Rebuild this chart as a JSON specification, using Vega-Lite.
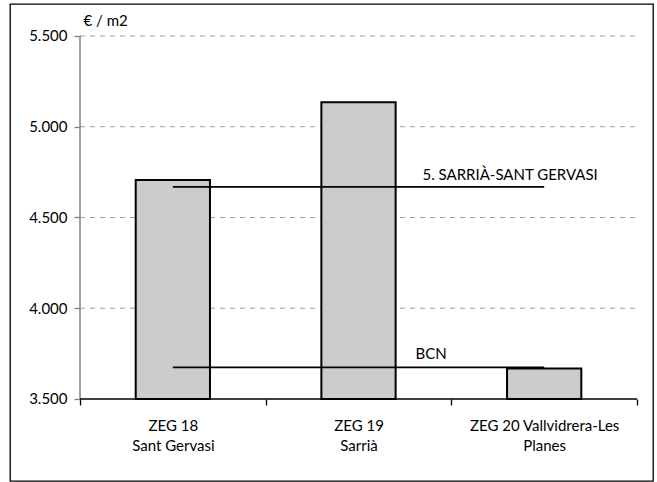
{
  "$schema": "https://vega.github.io/schema/vega-lite/v6.json",
  "width": 643,
  "height": 477,
  "autosize": "none",
  "padding": {"left": 10, "top": 4, "right": 4, "bottom": 1},
  "config": {
    "view": {"stroke": "#000000", "strokeWidth": 1.3},
    "font": "Lato"
  },
  "datasets": {
    "bars": [
      {"zona": "ZEG 18|Sant Gervasi", "precio": 4707},
      {"zona": "ZEG 19|Sarrià", "precio": 5135},
      {"zona": "ZEG 20 Vallvidrera-Les|Planes", "precio": 3668}
    ],
    "refs": [
      {"nom": "5. SARRIÀ-SANT GERVASI", "valor": 4669},
      {"nom": "BCN", "valor": 3674}
    ],
    "grid": [{"v": 4000}, {"v": 4500}, {"v": 5000}, {"v": 5500}]
  },
  "layer": [
    {
      "data": {"name": "grid"},
      "mark": {"type": "rule", "strokeDash": [5, 5], "color": "#a0a0a0", "strokeWidth": 1},
      "encoding": {
        "y": {"field": "v", "type": "quantitative"},
        "x": {"datum": "ZEG 18|Sant Gervasi", "type": "nominal", "bandPosition": 0},
        "x2": {"datum": "ZEG 20 Vallvidrera-Les|Planes", "bandPosition": 1}
      }
    },
    {
      "data": {"name": "bars"},
      "mark": {"type": "bar", "width": {"band": 0.4}, "fill": "#cccccc", "stroke": "#000000", "strokeWidth": 2},
      "encoding": {
        "x": {
          "field": "zona",
          "type": "nominal",
          "sort": null,
          "scale": {
            "type": "band",
            "domain": ["ZEG 18|Sant Gervasi", "ZEG 19|Sarrià", "ZEG 20 Vallvidrera-Les|Planes"],
            "paddingInner": 0,
            "paddingOuter": 0.2316,
            "align": 0.814,
            "round": false
          },
          "axis": {
            "title": null,
            "orient": "bottom",
            "offset": -82,
            "domain": false,
            "grid": false,
            "tickBand": "extent",
            "tickSize": 6,
            "tickColor": "#000000",
            "tickWidth": 1.3,
            "labelAngle": 0,
            "labelAlign": "center",
            "labelBaseline": "top",
            "labelOverlap": false,
            "labelBound": false,
            "labelFlush": false,
            "labelExpr": "split(datum.label, '|')",
            "labelFont": "Lato",
            "labelFontSize": 15,
            "labelColor": "#000000",
            "labelLineHeight": 20,
            "labelPadding": 13
          }
        },
        "y": {
          "field": "precio",
          "type": "quantitative",
          "scale": {"domain": [3048.2, 5676.3], "nice": false, "zero": false},
          "axis": {
            "title": "€ / m2",
            "titleAngle": 0,
            "titleX": 3,
            "titleY": 21,
            "titleAlign": "left",
            "titleBaseline": "alphabetic",
            "titleFont": "Lato",
            "titleFontSize": 15,
            "titleFontWeight": "normal",
            "titleColor": "#000000",
            "offset": -70,
            "domain": false,
            "grid": false,
            "values": [3500, 4000, 4500, 5000, 5500],
            "tickSize": 6,
            "tickColor": "#808080",
            "tickWidth": 1.3,
            "labelExpr": "replace(format(datum.value, ','), ',', '.')",
            "labelFont": "Lato",
            "labelFontSize": 15,
            "labelColor": "#000000",
            "labelPadding": 7
          }
        },
        "y2": {"datum": 3500}
      }
    },
    {
      "data": {"values": [{}]},
      "mark": {"type": "rule", "color": "#808080", "strokeWidth": 1.5},
      "encoding": {
        "x": {"datum": "ZEG 18|Sant Gervasi", "type": "nominal", "bandPosition": 0},
        "y": {"datum": 3500, "type": "quantitative"},
        "y2": {"datum": 5500}
      }
    },
    {
      "data": {"values": [{}]},
      "mark": {"type": "rule", "color": "#000000", "strokeWidth": 1.5},
      "encoding": {
        "y": {"datum": 3500, "type": "quantitative"},
        "x": {"datum": "ZEG 18|Sant Gervasi", "type": "nominal", "bandPosition": 0},
        "x2": {"datum": "ZEG 20 Vallvidrera-Les|Planes", "bandPosition": 1}
      }
    },
    {
      "data": {"name": "refs"},
      "mark": {"type": "rule", "color": "#000000", "strokeWidth": 1.8},
      "encoding": {
        "y": {"field": "valor", "type": "quantitative"},
        "x": {"datum": "ZEG 18|Sant Gervasi", "type": "nominal", "bandPosition": 0.5},
        "x2": {"datum": "ZEG 20 Vallvidrera-Les|Planes", "bandPosition": 0.5}
      }
    },
    {
      "data": {"name": "refs"},
      "transform": [{"filter": "datum.nom !== 'BCN'"}],
      "mark": {"type": "text", "align": "left", "baseline": "alphabetic", "dx": 64, "dy": -7, "font": "Lato", "fontSize": 15, "color": "#000000"},
      "encoding": {
        "y": {"field": "valor", "type": "quantitative"},
        "x": {"datum": "ZEG 19|Sarrià", "type": "nominal", "bandPosition": 0.5},
        "text": {"field": "nom"}
      }
    },
    {
      "data": {"name": "refs"},
      "transform": [{"filter": "datum.nom === 'BCN'"}],
      "mark": {"type": "text", "align": "left", "baseline": "alphabetic", "dx": 57, "dy": -8, "font": "Lato", "fontSize": 15, "color": "#000000"},
      "encoding": {
        "y": {"field": "valor", "type": "quantitative"},
        "x": {"datum": "ZEG 19|Sarrià", "type": "nominal", "bandPosition": 0.5},
        "text": {"field": "nom"}
      }
    }
  ]
}
